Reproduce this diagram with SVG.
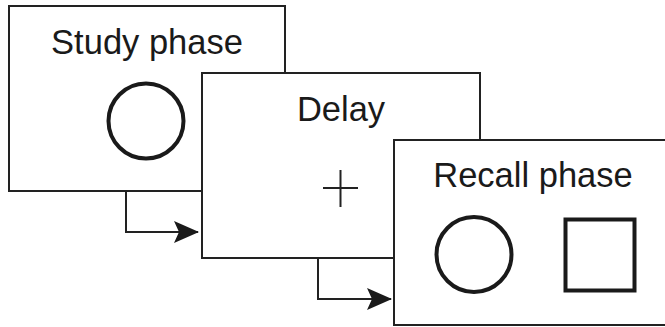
<svg xmlns="http://www.w3.org/2000/svg" width="665" height="327" viewBox="0 0 665 327">
  <defs>
    <style>
      .frame { fill: #ffffff; stroke: #222222; stroke-width: 2; }
      .label { font-family: "Liberation Sans", Arial, sans-serif; font-size: 34.5px; fill: #1a1a1a; text-anchor: middle; }
      .shape { fill: none; stroke: #1a1a1a; stroke-width: 4; }
      .conn { fill: none; stroke: #222222; stroke-width: 2; }
    </style>
    <marker id="arrow" viewBox="0 0 26 24" refX="24" refY="12" markerWidth="26" markerHeight="24" markerUnits="userSpaceOnUse" orient="auto">
      <path d="M0,1 L25,12 L0,23 L5,12 Z" fill="#1a1a1a"/>
    </marker>
  </defs>
  <rect width="665" height="327" fill="#ffffff"/>

  <g id="connectors">
    <path class="conn" d="M126,191 V232 H198" marker-end="url(#arrow)"/>
    <path class="conn" d="M318,258 V299 H391" marker-end="url(#arrow)"/>
  </g>

  <g id="study">
    <rect class="frame" x="9" y="6" width="276" height="185"/>
    <text class="label" x="147" y="54">Study phase</text>
    <circle class="shape" cx="146" cy="121" r="37.5"/>
  </g>

  <g id="delay">
    <rect class="frame" x="202" y="73" width="278" height="185"/>
    <text class="label" x="341" y="121">Delay</text>
    <path class="conn" d="M323,188 H358 M340.5,170 V207"/>
  </g>

  <g id="recall">
    <rect class="frame" x="394" y="140" width="290" height="185"/>
    <text class="label" x="533" y="187">Recall phase</text>
    <circle class="shape" cx="474" cy="254.5" r="37.5"/>
    <rect class="shape" x="565.5" y="219.5" width="69" height="71" stroke-width="5"/>
  </g>
</svg>
